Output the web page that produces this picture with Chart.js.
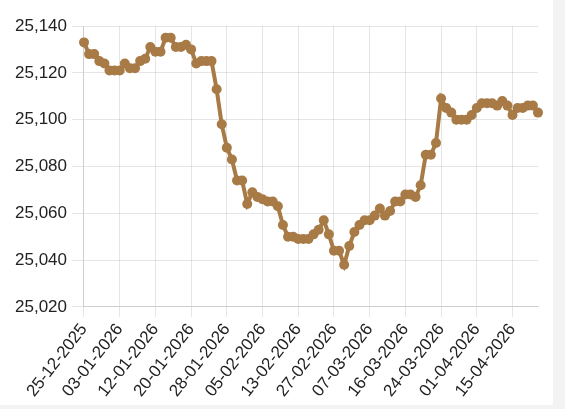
<!DOCTYPE html>
<html>
<head>
<meta charset="utf-8">
<script src="https://cdn.jsdelivr.net/npm/chart.js@4"></script>
<style>
  html, body { margin: 0; padding: 0; background: #f3f3f3; }
  #wrap { width: 553px; height: 405px; background: #fff; position: relative; }
</style>
</head>
<body>
<div id="wrap"><canvas id="rateChart"></canvas></div>
<script>
// trading days (Sundays / holidays missing)
const dates = [
    '25-12-2025', '26-12-2025', '27-12-2025', '29-12-2025', '30-12-2025', '31-12-2025', '02-01-2026',
    '03-01-2026', '05-01-2026', '06-01-2026', '07-01-2026', '08-01-2026', '09-01-2026', '10-01-2026',
    '12-01-2026', '13-01-2026', '14-01-2026', '15-01-2026', '16-01-2026', '17-01-2026', '19-01-2026',
    '20-01-2026', '21-01-2026', '22-01-2026', '23-01-2026', '24-01-2026', '26-01-2026', '27-01-2026',
    '28-01-2026', '29-01-2026', '30-01-2026', '31-01-2026', '02-02-2026', '03-02-2026', '04-02-2026',
    '05-02-2026', '06-02-2026', '07-02-2026', '09-02-2026', '10-02-2026', '11-02-2026', '12-02-2026',
    '13-02-2026', '14-02-2026', '16-02-2026', '23-02-2026', '24-02-2026', '25-02-2026', '26-02-2026',
    '27-02-2026', '28-02-2026', '02-03-2026', '03-03-2026', '04-03-2026', '05-03-2026', '06-03-2026',
    '07-03-2026', '09-03-2026', '10-03-2026', '11-03-2026', '12-03-2026', '13-03-2026', '14-03-2026',
    '16-03-2026', '17-03-2026', '18-03-2026', '19-03-2026', '20-03-2026', '21-03-2026', '23-03-2026',
    '24-03-2026', '25-03-2026', '26-03-2026', '27-03-2026', '28-03-2026', '30-03-2026', '31-03-2026',
    '01-04-2026', '02-04-2026', '03-04-2026', '04-04-2026', '06-04-2026', '07-04-2026', '08-04-2026',
    '15-04-2026', '16-04-2026', '17-04-2026', '18-04-2026', '20-04-2026', '21-04-2026'
];

const rates = [
    25133, 25128, 25128, 25125, 25124, 25121, 25121,
    25121, 25124, 25122, 25122, 25125, 25126, 25131,
    25129, 25129, 25135, 25135, 25131, 25131, 25132,
    25130, 25124, 25125, 25125, 25125, 25113, 25098,
    25088, 25083, 25074, 25074, 25064, 25069, 25067,
    25066, 25065, 25065, 25063, 25055, 25050, 25050,
    25049, 25049, 25049, 25051, 25053, 25057, 25051,
    25044, 25044, 25038, 25046, 25052, 25055, 25057,
    25057, 25059, 25062, 25059, 25061, 25065, 25065,
    25068, 25068, 25067, 25072, 25085, 25085, 25090,
    25109, 25105, 25103, 25100, 25100, 25100, 25102,
    25105, 25107, 25107, 25107, 25106, 25108, 25106,
    25102, 25105, 25105, 25106, 25106, 25103
];

const yMin = 25020;
const yMax = 25140;
const yStep = 20;
const labelEvery = 7;

const lineColor = '#a77a46';
const tickFont = { family: 'Arial, "Liberation Sans", sans-serif', size: 17 };

new Chart(document.getElementById('rateChart'), {
    type: 'line',
    data: {
        labels: dates,
        datasets: [{
            label: 'Rate',
            data: rates,
            borderColor: lineColor,
            backgroundColor: lineColor,
            borderWidth: 4,
            pointRadius: 5,
            pointBackgroundColor: lineColor,
            pointBorderColor: lineColor,
            pointBorderWidth: 0,
            tension: 0
        }]
    },
    options: {
        responsive: true,
        maintainAspectRatio: false,
        animation: false,
        layout: { padding: { top: 26, right: 15, left: 10, bottom: 1 } },
        plugins: {
            legend: { display: false },
            tooltip: { enabled: false }
        },
        scales: {
            x: {
                grid: { color: 'rgba(0,0,0,0.1)', tickLength: 10 },
                border: { color: 'rgba(0,0,0,0.1)' },
                ticks: {
                    autoSkip: false,
                    minRotation: 52,
                    maxRotation: 52,
                    color: '#222',
                    font: tickFont,
                    callback: function (v, i) {
                        return i % labelEvery === 0 ? dates[i] : null;
                    }
                }
            },
            y: {
                min: yMin,
                max: yMax,
                grid: { color: 'rgba(0,0,0,0.1)', tickLength: 12 },
                border: { color: 'rgba(0,0,0,0.1)' },
                ticks: {
                    stepSize: yStep,
                    color: '#222',
                    padding: 5,
                    font: tickFont
                }
            }
        }
    }
});
</script>
</body>
</html>
